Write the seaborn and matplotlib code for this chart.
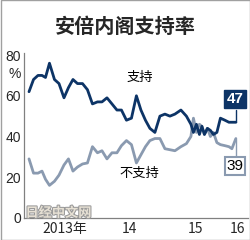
import numpy as np
import pandas as pd
import seaborn as sns
import matplotlib.pyplot as plt
import matplotlib.patheffects as pe
from matplotlib.patches import Rectangle

# poll timing: months since Jan 2013
months = [-0.55, 0.28, 1.10, 1.84, 2.48, 3.21, 4.13, 4.96, 5.88, 6.70,
          7.53, 8.36, 9.28, 10.19, 11.11, 12.03, 12.86, 13.78, 14.70, 15.61,
          16.44, 17.36, 18.28, 19.19, 20.02, 20.85, 21.67, 22.59, 23.51, 24.43,
          25.35, 26.27, 27.37, 28.38, 29.21, 29.67, 30.22, 30.77, 31.23, 31.69,
          32.24, 32.79, 33.34, 33.98, 34.63, 35.45, 36.19, 36.74, 37.47]
support = [62, 68, 70, 70, 69, 76, 68, 66, 59, 64,
           68, 66, 66, 63, 56, 57, 57, 59, 56, 53,
           53, 48, 49, 60, 53, 48, 44, 42, 50, 51,
           50, 51, 53, 50, 46, 42, 46, 41, 45, 41,
           44, 43, 41, 42, 49, 48, 47, 47, 47]
oppose = [29, 22, 22, 23, 19, 16, 18, 21, 26, 29,
          23, 25, 26.5, 27, 35, 32, 33, 29, 32, 32,
          35.5, 38, 36, 27, 31, 35, 38, 39, 39, 34,
          33.5, 33, 35, 36.5, 40, 49, 42, 46, 45, 41,
          44, 40, 42, 37, 36, 35.5, 35, 34, 39]
year_ticks = [0, 12, 24, 36]
year_labels = ["2013年", "14", "15", "16"]
year_label_pos = [6, 18, 30, 37.8]

df = pd.DataFrame({"month": months, "支持": support, "不支持": oppose})
long_df = df.melt(id_vars="month", var_name="series", value_name="rate")

sns.set_style("white")
plt.rcParams["font.family"] = ["Noto Sans CJK SC", "DejaVu Sans"]

navy = "#0d3466"
grey = "#8a9ab0"

fig = plt.figure(figsize=(2.5, 2.4), dpi=100)
ax = fig.add_axes([0.096, 0.092, 0.896, 0.687])

sns.lineplot(data=long_df, x="month", y="rate", hue="series",
             palette={"支持": navy, "不支持": grey},
             hue_order=["不支持", "支持"], linewidth=2.0, legend=False, ax=ax)

ax.set_xlim(-1.47, 39.7)
ax.set_ylim(0, 81)
ax.set_xlabel("")
ax.set_ylabel("")

for s in ["top", "right"]:
    ax.spines[s].set_visible(False)
for s in ["left", "bottom"]:
    ax.spines[s].set_color("#808080")
    ax.spines[s].set_linewidth(0.9)

ax.set_yticks([0, 20, 40, 60, 80])
ax.set_yticklabels(["0", "20", "40", "60", "80"], family="Liberation Sans", fontsize=10)
ax.tick_params(axis="y", direction="in", length=3, pad=2, color="#808080")

ax.set_xticks(year_ticks)
ax.set_xticklabels([])
ax.set_xticks(year_label_pos, minor=True)
ax.set_xticklabels(year_labels, minor=True, fontsize=10)
ax.tick_params(axis="x", which="major", direction="out", length=3, color="#808080")
ax.tick_params(axis="x", which="minor", length=0, pad=3)

ax.text(-2.0, 70.5, "%", ha="right", va="center",
        fontsize=10, family="Liberation Sans", clip_on=False)

ax.text(19.8, 69, "支持", ha="center", va="center", fontsize=9.5, color="black")
ax.text(19.8, 22, "不支持", ha="center", va="center", fontsize=9.5, color="black")

# end labels
ax.plot([37.47, 37.47], [47, 53], color=navy, lw=1.0)
ax.text(37.3, 58.5, str(support[-1]), ha="center", va="center", fontsize=11,
        fontweight="bold", color="white", family="Liberation Sans",
        bbox=dict(boxstyle="square,pad=0.15", fc=navy, ec=navy))
ax.plot([37.47, 37.47], [39, 30], color=grey, lw=1.0)
ax.text(37.3, 25.5, str(oppose[-1]), ha="center", va="center", fontsize=11,
        color="black", family="Liberation Sans",
        bbox=dict(boxstyle="square,pad=0.12", fc="white", ec=grey, lw=1.5))

# watermark
ax.text(-1.2, 2.5, "日经中文网", ha="left", va="center", fontsize=9.5,
        fontweight="bold", color="#e6e0d4",
        path_effects=[pe.withStroke(linewidth=1.5, foreground="#9a9a9a")])

fig.text(0.5, 0.888, "安倍内阁支持率", ha="center", va="center",
         fontsize=14.5, fontweight=900)

fig.patches.append(Rectangle((0.002, 0.002), 0.996, 0.996, transform=fig.transFigure,
                             fill=False, ec="#a0a0a0", lw=1.0))

fig.savefig("out.png", dpi=100)
